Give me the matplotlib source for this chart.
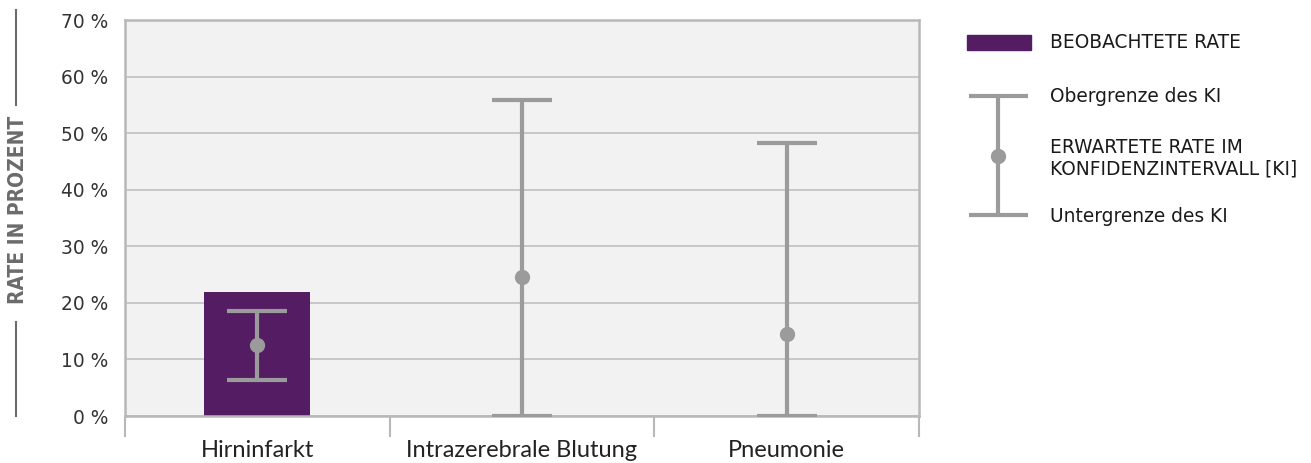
import matplotlib
matplotlib.use('Agg')
import matplotlib.pyplot as plt
from matplotlib.lines import Line2D
import numpy as np

plt.rcParams['font.family'] = 'DejaVu Sans'

#%% data
categories = ['Hirninfarkt', 'Intrazerebrale Blutung', 'Pneumonie']
observed = [22.0, np.nan, np.nan]
expected = [12.6, 24.6, 14.5]
ci_lower = [6.4, 0.0, 0.0]
ci_upper = [18.6, 55.9, 48.3]
yticks = [0, 10, 20, 30, 40, 50, 60, 70]

legend_labels = ['BEOBACHTETE RATE', 'Obergrenze des KI',
                 'ERWARTETE RATE IM\nKONFIDENZINTERVALL [KI]', 'Untergrenze des KI']

#%% colours
purple = '#541C63'
gray = '#9B9B9B'
spine = '#B8B8B8'
grid = '#C4C4C4'
bg = '#F2F2F2'

W, H = 1311, 463
fig = plt.figure(figsize=(W / 100, H / 100), dpi=100)
ax = fig.add_axes([125 / W, 1 - 416 / H, 794 / W, 396 / H])
ax.set_facecolor(bg)

x = np.arange(len(categories))
ax.bar(x, observed, width=0.4, color=purple, zorder=2)
yerr = [np.array(expected) - np.array(ci_lower), np.array(ci_upper) - np.array(expected)]
ax.errorbar(x, expected, yerr=yerr, fmt='o', color=gray, ecolor=gray, elinewidth=3,
            capsize=21.5, capthick=3, markersize=10, zorder=3)

ax.set_xlim(-0.5, 2.5)
ax.set_ylim(0, 70)
ax.set_yticks(yticks)
ax.set_yticklabels([f'{v} %' for v in yticks], fontsize=13.4, color='#333333')
ax.tick_params(axis='y', length=0, pad=12)
ax.yaxis.grid(True, color=grid, linewidth=1.3, zorder=0)
ax.set_axisbelow(True)

ax.set_xticks(x)
ax.set_xticklabels(categories, fontsize=17, color='#222222', family='Lato')
ax.set_xticks([-0.5, 0.5, 1.5, 2.5], minor=True)
ax.tick_params(axis='x', which='major', length=0, pad=17)
ax.tick_params(axis='x', which='minor', length=15, width=1.5, color=spine)
for s in ax.spines.values():
    s.set_color(spine)
    s.set_linewidth(1.8)

# y label with lines above/below
fig.text(18 / W, 1 - 210 / H, 'RATE IN PROZENT', rotation=90, ha='center', va='center',
         fontsize=15, fontweight='bold', fontstretch='condensed', color='#6B6B6B')
fig.add_artist(Line2D([16 / W, 16 / W], [1 - 10 / H, 1 - 105 / H], color='#6B6B6B', lw=1.5))
fig.add_artist(Line2D([16 / W, 16 / W], [1 - 322 / H, 1 - 416 / H], color='#6B6B6B', lw=1.5))

#%% legend drawn in its own pixel-space axes
lg = fig.add_axes([0, 0, 1, 1], facecolor='none')
lg.set_xlim(0, W)
lg.set_ylim(H, 0)
lg.axis('off')
lg.add_patch(plt.Rectangle((967, 35), 64, 15, color=purple))
lg.plot([998, 998], [96, 215], color=gray, lw=3, solid_capstyle='butt')
lg.plot([969, 1028], [96, 96], color=gray, lw=3, solid_capstyle='butt')
lg.plot([969, 1028], [215, 215], color=gray, lw=3, solid_capstyle='butt')
lg.plot([998], [156], 'o', color=gray, markersize=10)
for label, yy in zip(legend_labels, [43, 96, 158, 216]):
    lg.text(1050, yy, label, fontsize=13.4, color='#1A1A1A', va='center', ha='left',
            linespacing=1.15)

fig.savefig('out.png', dpi=100)
